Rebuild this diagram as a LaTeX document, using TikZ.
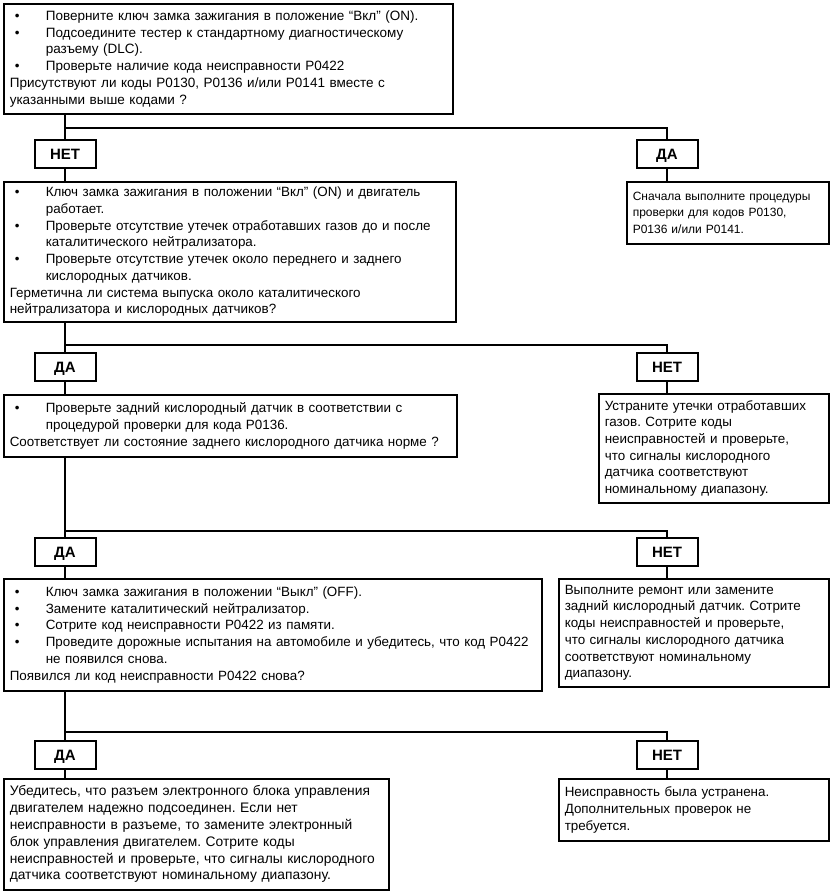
\documentclass[tikz,border=0pt]{standalone}
\usepackage{fontspec}
\setmainfont{Liberation Sans}
\newcommand\bitem{\makebox[36pt][l]{\hspace{5pt}\textbullet}}
\newcommand\bcont{\hspace*{36pt}}
\frenchspacing
\begin{document}
\begin{tikzpicture}[x=1pt,y=-1pt,
  box/.style={draw, line width=1.6pt, anchor=north west, align=left,
    inner xsep=6pt, inner ysep=0pt, font=\fontsize{13.4}{16.7}\selectfont\frenchspacing},
  lab/.style={draw, line width=2pt, minimum width=61pt, minimum height=28pt,
    inner sep=0pt, text height=10.8pt, text depth=0pt,
    font=\fontsize{15}{18}\selectfont\bfseries},
  conn/.style={line width=1.6pt}]
\useasboundingbox (0,0) rectangle (831,894);

% level 1
\node[box, text width=437pt, minimum height=110pt,
  font=\fontsize{13.5}{16.8}\selectfont\frenchspacing] (b1) at (3,3) {%
\bitem Поверните ключ замка зажигания в положение “Вкл” (ON).\\
\bitem Подсоедините тестер к стандартному диагностическому\\
\bcont разъему (DLC).\\
\bitem Проверьте наличие кода неисправности P0422\\
Присутствуют ли коды P0130, P0136 и/или P0141 вместе с\\
указанными выше кодами ?};
\coordinate (j1) at (65,128);
\node[lab] (n1) at (65,154) {НЕТ};
\node[lab] (d1) at (667,154) {ДА};
\node[box, text width=440pt, minimum height=140pt] (b2) at (3,181) {%
\bitem Ключ замка зажигания в положении “Вкл” (ON) и двигатель\\
\bcont работает.\\
\bitem Проверьте отсутствие утечек отработавших газов до и после\\
\bcont каталитического нейтрализатора.\\
\bitem Проверьте отсутствие утечек около переднего и заднего\\
\bcont кислородных датчиков.\\
Герметична ли система выпуска около каталитического\\
нейтрализатора и кислородных датчиков?};
\node[box, text width=190pt, minimum height=62pt,
  font=\fontsize{12}{16.6}\selectfont\frenchspacing] (b3) at (626,181) {%
Сначала выполните процедуры\\
проверки для кодов P0130,\\
P0136 и/или P0141.};
\draw[conn] (b1.south -| j1) -- (n1.north);
\draw[conn] (n1.south) -- (n1.south |- b2.north);
\draw[conn] (j1) -| (d1.north);
\draw[conn] (d1.south) -- (d1.south |- b3.north);

% level 2
\coordinate (j2) at (65,345);
\node[lab] (d2) at (65,367) {ДА};
\node[lab] (n2) at (667,367) {НЕТ};
\node[box, text width=441pt, minimum height=62pt] (b4) at (3,394) {%
\bitem Проверьте задний кислородный датчик в соответствии с\\
\bcont процедурой проверки для кода P0136.\\
Соответствует ли состояние заднего кислородного датчика норме ?};
\node[box, text width=218pt, minimum height=109pt] (b5) at (598,393) {%
Устраните утечки отработавших\\
газов. Сотрите коды\\
неисправностей и проверьте,\\
что сигналы кислородного\\
датчика соответствуют\\
номинальному диапазону.};
\draw[conn] (b2.south -| j2) -- (d2.north);
\draw[conn] (d2.south) -- (d2.south |- b4.north);
\draw[conn] (j2) -| (n2.north);
\draw[conn] (n2.south) -- (n2.south |- b5.north);

% level 3
\coordinate (j3) at (65,531);
\node[lab] (d3) at (65,552) {ДА};
\node[lab] (n3) at (667,552) {НЕТ};
\node[box, text width=526pt, minimum height=112pt] (b6) at (3,578) {%
\bitem Ключ замка зажигания в положении “Выкл” (OFF).\\
\bitem Замените каталитический нейтрализатор.\\
\bitem Сотрите код неисправности P0422 из памяти.\\
\bitem Проведите дорожные испытания на автомобиле и убедитесь, что код P0422\\
\bcont не появился снова.\\
Появился ли код неисправности P0422 снова?};
\node[box, text width=258pt, minimum height=108pt] (b7) at (558,578) {%
Выполните ремонт или замените\\
задний кислородный датчик. Сотрите\\
коды неисправностей и проверьте,\\
что сигналы кислородного датчика\\
соответствуют номинальному\\
диапазону.};
\draw[conn] (b4.south -| j3) -- (d3.north);
\draw[conn] (d3.south) -- (d3.south |- b6.north);
\draw[conn] (j3) -| (n3.north);
\draw[conn] (n3.south) -- (n3.south |- b7.north);

% level 4
\coordinate (j4) at (65,732);
\node[lab] (d4) at (65,755) {ДА};
\node[lab] (n4) at (667,755) {НЕТ};
\node[box, text width=373pt, minimum height=111pt,
  font=\fontsize{13.8}{16.8}\selectfont\frenchspacing] (b8) at (3,778) {%
Убедитесь, что разъем электронного блока управления\\
двигателем надежно подсоединен. Если нет\\
неисправности в разъеме, то замените электронный\\
блок управления двигателем. Сотрите коды\\
неисправностей и проверьте, что сигналы кислородного\\
датчика соответствуют номинальному диапазону.};
\node[box, text width=258pt, minimum height=62pt] (b9) at (558,778) {%
Неисправность была устранена.\\
Дополнительных проверок не\\
требуется.};
\draw[conn] (b6.south -| j4) -- (d4.north);
\draw[conn] (d4.south) -- (d4.south |- b8.north);
\draw[conn] (j4) -| (n4.north);
\draw[conn] (n4.south) -- (n4.south |- b9.north);
\end{tikzpicture}
\end{document}
